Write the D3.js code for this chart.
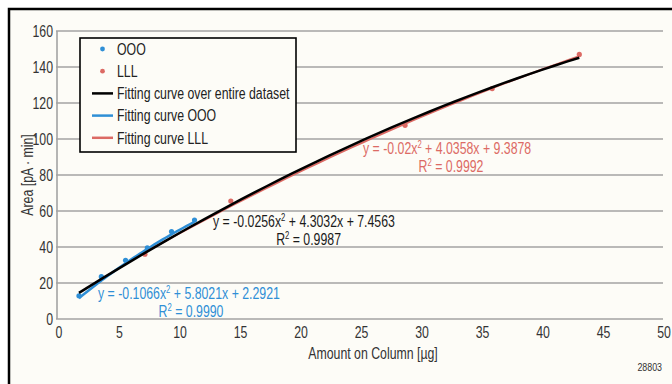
<!DOCTYPE html>
<html>
<head>
<meta charset="utf-8">
<script src="https://cdn.jsdelivr.net/npm/d3@7"></script>
<style>
  body { margin: 0; background: #fff; }
  svg { display: block; }
  text { font-family: "Liberation Sans", Arial, sans-serif; }
</style>
</head>
<body>
<svg></svg>
<script>
const xTicks = [0, 5, 10, 15, 20, 25, 30, 35, 40, 45, 50];
const yTicks = [0, 20, 40, 60, 80, 100, 120, 140, 160];

const oooX = [1.65, 3.5, 5.5, 7.3, 9.3, 11.2];
const oooY = [12.9, 23.5, 32.6, 39.5, 48.6, 55.0];
const lllX = [7.1, 14.2, 28.6, 35.8, 43.0];
const lllY = [36.0, 65.5, 107.6, 128.0, 147.0];

// fit coefficients shown on chart [a, b, c] for a*x^2 + b*x + c, and x range
const fitAll = [-0.0256, 4.3032, 7.4563], fitAllRange = [1.65, 43.0];
const fitOOO = [-0.1066, 5.8021, 2.2921], fitOOORange = [1.65, 11.2];
const fitLLL = [-0.02, 4.0358, 9.3878], fitLLLRange = [7.1, 43.0];

const WIDTH = 672, HEIGHT = 384,
      MARGINS = { top: 31, right: 8, bottom: 65, left: 59 };
const BLUE = '#2f8fd6', RED = '#dc6a64';
const SX = 0.77, FS = 16;

let svg = d3.select('svg').attr('width', WIDTH).attr('height', HEIGHT);

// condensed text: scale horizontally around the anchor point
function txt(parent, tx, ty, str, anchor, color, size, rot) {
  let g = parent.append('g')
    .attr('transform', `translate(${tx},${ty})` + (rot ? ` rotate(${rot})` : '') + ` scale(${SX},1)`);
  return g.append('text').attr('text-anchor', anchor || 'start')
    .attr('font-size', size || FS).attr('fill', color || '#333').html(str);
}

// frame
svg.append('rect').attr('x', 9).attr('y', 9).attr('width', WIDTH).attr('height', HEIGHT)
   .attr('fill', '#fdfcf7');
svg.append('path').attr('d', `M9,${HEIGHT} V9 H${WIDTH}`)
   .attr('fill', 'none').attr('stroke', '#000').attr('stroke-width', 2.5);

var x = d3.scaleLinear().domain([0, 50]).range([MARGINS.left, 664]);
var y = d3.scaleLinear().domain([0, 160]).range([319, MARGINS.top]);

// grid
svg.append('g').selectAll('line').data(yTicks).join('line')
   .attr('x1', 56).attr('x2', 663)
   .attr('y1', d => y(d)).attr('y2', d => y(d))
   .attr('stroke', '#a3a3a3').attr('stroke-width', 1.6);
svg.append('line').attr('x1', 57).attr('x2', 57).attr('y1', y(160)).attr('y2', y(0))
   .attr('stroke', '#a3a3a3').attr('stroke-width', 1.6);

yTicks.forEach(d => txt(svg, 53, y(d) + 5.7, d, 'end'));
xTicks.forEach(d => txt(svg, x(d), 337.5, d, 'middle'));

txt(svg, 373, 359, 'Amount on Column [µg]', 'middle');
txt(svg, 33, 175, 'Area [pA · min]', 'middle', '#333', FS, -90);
txt(svg, 662, 371, '28803', 'end', '#333', 11.5);

// curves
function curve(c, r) {
  let pts = d3.range(0, 41).map(i => r[0] + (r[1] - r[0]) * i / 40);
  return pts.map(v => [v, c[0] * v * v + c[1] * v + c[2]]);
}
var line = d3.line().x(d => x(d[0])).y(d => y(d[1]));

svg.append('g').selectAll('circle').data(d3.zip(lllX, lllY)).join('circle')
   .attr('cx', d => x(d[0])).attr('cy', d => y(d[1])).attr('r', 2.6).attr('fill', RED);
svg.append('g').selectAll('circle').data(d3.zip(oooX, oooY)).join('circle')
   .attr('cx', d => x(d[0])).attr('cy', d => y(d[1])).attr('r', 2.6).attr('fill', BLUE);

svg.append('path').datum(curve(fitLLL, fitLLLRange)).attr('d', line)
   .attr('fill', 'none').attr('stroke', RED).attr('stroke-width', 2);
svg.append('path').datum(curve(fitOOO, fitOOORange)).attr('d', line)
   .attr('fill', 'none').attr('stroke', BLUE).attr('stroke-width', 2.5);
svg.append('path').datum(curve(fitAll, fitAllRange)).attr('d', line)
   .attr('fill', 'none').attr('stroke', '#000').attr('stroke-width', 2.5);

// equations
const sup = '<tspan font-size="10" dy="-6">2</tspan><tspan dy="6">';
function eq(x0, yb, col, l1, x1, anchor1, l2) {
  txt(svg, x0, yb, l1.replace('x2', 'x' + sup) + '</tspan>', 'start', col);
  txt(svg, x1, yb + 18, 'R' + sup + l2 + '</tspan>', anchor1, col);
}
eq(363, 154, RED, 'y = -0.02x2 + 4.0358x + 9.3878', 451, 'middle', ' = 0.9992');
eq(213, 227, '#1a1a1a', 'y = -0.0256x2 + 4.3032x + 7.4563', 341, 'end', ' = 0.9987');
eq(98, 299, BLUE, 'y = -0.1066x2 + 5.8021x + 2.2921', 191, 'middle', ' = 0.9990');

// legend
var lg = svg.append('g');
lg.append('rect').attr('x', 80).attr('y', 38).attr('width', 216).attr('height', 114)
  .attr('fill', '#fdfcf7').attr('stroke', '#000').attr('stroke-width', 1.6);
const legendItems = [
  { label: 'OOO', type: 'dot', color: BLUE },
  { label: 'LLL', type: 'dot', color: RED },
  { label: 'Fitting curve over entire dataset', type: 'line', color: '#000' },
  { label: 'Fitting curve OOO', type: 'line', color: BLUE },
  { label: 'Fitting curve LLL', type: 'line', color: RED }
];
legendItems.forEach((d, i) => {
  let cy = 49 + i * 22.2;
  if (d.type === 'dot') lg.append('circle').attr('cx', 102.5).attr('cy', cy).attr('r', 2.4).attr('fill', d.color);
  else lg.append('line').attr('x1', 92).attr('x2', 113).attr('y1', cy).attr('y2', cy)
         .attr('stroke', d.color).attr('stroke-width', 2.5);
  txt(lg, 117, cy + 5.7, d.label, 'start', '#222');
});
</script>
</body>
</html>
